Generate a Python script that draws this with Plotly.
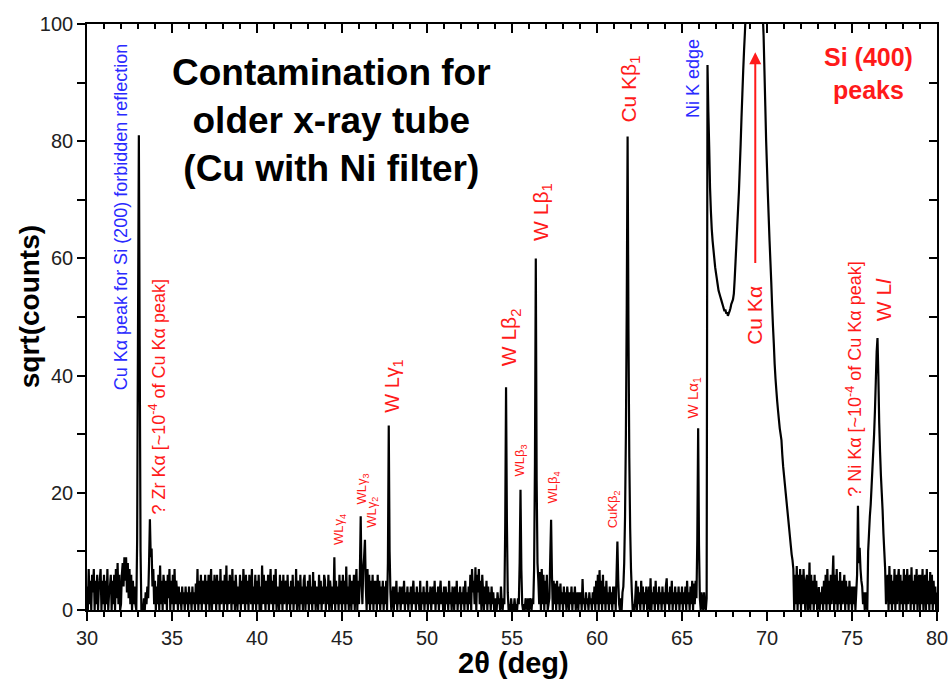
import numpy as np
import plotly.graph_objects as go

# ---------------- data (sqrt(counts), 0.05 deg steps, one row per degree) -------------
STEP = 0.05
r30 = [4,0,7,1,5,0,6,3,7,0,5,1,6,0,4,5,7,0,5,1]
r31 = [6,0,5,1,7,0,3,4,6,0,5,1,6,0,7,2,8,1,6,0]
r32 = [1,6,8,4,9,5,9,3,8,2,7,1,6,0,5,1,4,1,0,12]
r33 = [48,81,45,10,0,1,0,2,0,3,1,4,2,8,15.5,9,10.5,4,7,1]
r34 = [5,0,4,1,6,0,7.6,1,5,0,6,4,1,5,0,6,2,7,0,5]
r35 = [1,6,0,7,1,5,3,0,4,1,3,0,4,1,3,0,4,1,3,0]
r36 = [4,1,3,0,4,1,3,0,4.5,1,7,0,5,1,6,0,5,4,1,6]
r37 = [0,5,1,6,0,4,7,0,5,1,6,3,0,6,1,5,0,7,1,4]
r38 = [5,0,6,1,7.6,0,5,1,6,4,0,7,1,5,0,6,3,0,4,1]
r39 = [6,0,5,1,7,3,0,6,1,5,0,6,4,1,7,0,4,1,6,0]
r40 = [5,1,6,0,4,0,7.6,1,6,3,0,5,1,6,0,4,7,1,5,0]
r41 = [6,1,7,0,4,3,0,6,1,5,0,6,1,4,5,0,6,1,4,0]
r42 = [5,1,6,0,4,1,7,0,5,3,0,6,1,4,0,5,6,0,4,1]
r43 = [5,0,6,1,4,0,6.5,1,5,0,4,3,0,6,1,5,0,4,1,6]
r44 = [5,0,4,1,6,0,5,3,0,4,1,9,0,5,1,4,0,6,1,5]
r45 = [0,6,1,5,0,7.4,1,4,0,6,3,0,5,1,6,0,4,7,0,5]
r46 = [1,6,16,5,1,7,9,12,4,0,7,1,6,0,5,1,6,0,5,1]
r47 = [5,0,6,1,5,0,4,1,5,0,4,1,5,0,8,31.5,10,3,0,2]
r48 = [4,0,4,1,5,0,3,1,4,0,3,4,1,5,0,3,1,4,0,3]
r49 = [1,4,0,3,5,1,3,0,4,1,3,0,5,0,3,1,4,0,3,1]
r50 = [5,0,3,1,4,0,3,4,1,5,0,3,1,4,0,3,5,1,3,0]
r51 = [4,0,4,1,3,0,5,1,3,0,4,3,0,4,1,5,0,3,1,4]
r52 = [0,3,1,4,0,5,1,3,0,4,1,6,0,7,3,5,1,7.3,0,6]
r53 = [3,7,1,5,0,6,3,0,4,1,5,0,4,1,3,0,4,1,3,0]
r54 = [0,2,0,3,1,2,0,4,1,0,2,1,14,38,15,3,0,1,0,2]
r55 = [0,1,0,2,0,1,0,2,1,8,20.5,7,1,0,1,0,2,1,0,2]
r56 = [0,2,1,0,2,1,7,25,60,22,8,5,1,6.5,0,7,1,6,0,5]
r57 = [1,6,0,1,2,9,15.4,6,0,5,1,4.5,0,5,1,4,0,4.5,1,3]
r58 = [0,4,1,3,0,4,2,0,3,1,4,0,3,1,4,0,2,3,0,3]
r59 = [1,3,0,5.3,1,2,0,3,1,2,0,3,1,2,0,3,1,4,0,5]
r60 = [1,6,0,6.8,1,5,0,6,1,4,0,5,1,3,0,4,1,3,0,4]
r61 = [1,4,0,6,11.7,5,1,0,2,0,3,4,8,16,30,52,80.8,48,26,14]
r62 = [7,3,0,1,0,2,5,0,4,1,3,0,5,1,4,0,3,1,4,0]
r63 = [1,4,0,5.4,0,3,1,4,0,5,1,3,0,4,1,3,0,4,1,3]
r64 = [0,4,5.4,1,3,0,4,1,5,0,3,1,4,0,3,1,4,0,3,1]
r65 = [4,0,3,1,4,0,5,1,3,0,4,1,5,0,4.5,1,5,2,12,31]
r66 = [11,2,0,3,1,0,3,1,0,2,93,85,79,72,68,65,63,61.5,60,58.5]
r67 = [57.5,56.5,55.5,54.5,54,53.5,53,52.5,52,51.5,51,51.3,50.6,50.8,50.2,50.6,51,51.5,52.2,52.6]
r68 = [53,54,56.5,59.5,62.5,65.5,68.5,71.5,75.5,79.5,84,88,92,95.5,98.5,102,107,116,128,141]
r69 = [153,163,171,176,177,174,168,160,151,142,133,124,116,110,105,101.5,98,92,86,80]
r70 = [75.5,71,67,63,59.5,56,52,48.5,45.5,42,39.5,37.5,35.6,34,32.5,31,30,29,26.5,24.5]
r71 = [23,21.5,20,18.5,17,15.5,14,12.5,11,9.5,8.5,7,0,6,1,7.5,0,6,1,7]
r72 = [0,6,1,7,3,0,5,6,0,1,8.1,0,6,1,5,0,6,1,5,0]
r73 = [1,3.9,0,3,1,4,0,5,1,6,0,7,1,5,0,6,1,5,9.3,0]
r74 = [6,1,7,0,5,1,6.5,0,5,1,4,6,0,5,1,4,0,5,1,4]
r75 = [0,4,1,4,0,3,6,17.8,8,10.6,7,5,4,1,3,0,3,1,0,10]
r76 = [13,16,18,21,24,27,30,34,39,44,46.4,40,32,27,23,20,17,13,10,7]
r77 = [1,5,6,0,7.5,1,6,0,5,1,7,0,6,1,5,7,0,6,1,5]
r78 = [0,7,1,6,0,7,1,5,6,0,7.3,1,5,0,6,1,7,0,5,6]
r79 = [0,6,1,7,0,5,6,0,7,1,5,0,6.5,1,6,0,5,1,4,0]
r80 = [3]

rows = [r30, r31, r32, r33, r34, r35, r36, r37, r38, r39,
        r40, r41, r42, r43, r44, r45, r46, r47, r48, r49,
        r50, r51, r52, r53, r54, r55, r56, r57, r58, r59,
        r60, r61, r62, r63, r64, r65, r66, r67, r68, r69,
        r70, r71, r72, r73, r74, r75, r76, r77, r78, r79, r80]
sqrt_counts = [v for r in rows for v in r]
two_theta = np.round(30 + STEP * np.arange(len(sqrt_counts)), 2)

x_ticks = [30, 35, 40, 45, 50, 55, 60, 65, 70, 75, 80]
y_ticks = [0, 20, 40, 60, 80, 100]

# rotated labels: (text, x, y_bottom, color, size)
RED = "#ff1a1a"
BLUE = "#2a2aff"
labels = [
    ("Cu Kα peak for Si (200) forbidden reflection", 31.99, 37.2, BLUE, 18),
    ("? Zr Kα [~10<sup>-4</sup> of Cu Kα peak]", 34.14, 16.0, RED, 18),
    ("WLγ<sub>4</sub>", 44.85, 10.75, RED, 13),
    ("WLγ<sub>3</sub>", 46.19, 17.6, RED, 13),
    ("WLγ<sub>2</sub>", 46.78, 13.65, RED, 13),
    ("W Lγ<sub>1</sub>", 48.05, 33.3, RED, 20),
    ("W Lβ<sub>2</sub>", 54.9, 41.3, RED, 21),
    ("WLβ<sub>3</sub>", 55.49, 22.5, RED, 13),
    ("W Lβ<sub>1</sub>", 56.75, 62.6, RED, 21),
    ("WLβ<sub>4</sub>", 57.43, 17.9, RED, 13),
    ("CuKβ<sub>2</sub>", 60.96, 13.65, RED, 13),
    ("Cu Kβ<sub>1</sub>", 61.96, 82.8, RED, 21),
    ("W Lα<sub>1</sub>", 65.66, 32.3, RED, 15),
    ("Ni K edge", 65.61, 83.6, BLUE, 18),
    ("Cu Kα", 69.26, 44.9, RED, 21),
    ("? Ni Kα [~10<sup>-4</sup> of Cu Kα peak]", 75.13, 19.0, RED, 18),
    ("W L<i>l</i>", 76.87, 49.0, RED, 21),
]

FONT = "Liberation Sans, Arial, sans-serif"

fig = go.Figure()
fig.add_trace(go.Scatter(x=two_theta, y=sqrt_counts, mode="lines",
                         line=dict(color="black", width=2.2, simplify=False),
                         hoverinfo="skip", showlegend=False))
# helper trace so the mirrored top/right axes are drawn
fig.add_trace(go.Scatter(x=[30], y=[0], xaxis="x2", yaxis="y2", mode="markers",
                         marker=dict(opacity=0), showlegend=False, hoverinfo="skip"))

ann = []
for text, x, y, color, size in labels:
    ann.append(dict(text=text, x=x, y=y, xref="x", yref="y", textangle=-90,
                    xanchor="center", yanchor="bottom", showarrow=False,
                    font=dict(family=FONT, size=size, color=color)))

ann.append(dict(text="<b>Contamination for<br>older x-ray tube<br>(Cu with Ni filter)</b>",
                x=44.39, y=83.6, xref="x", yref="y", showarrow=False,
                xanchor="center", yanchor="middle",
                font=dict(family=FONT, size=37, color="black")))
ann.append(dict(text="<b>Si (400)<br>peaks</b>", x=75.96, y=91.6, xref="x", yref="y",
                showarrow=False, xanchor="center", yanchor="middle",
                font=dict(family=FONT, size=25, color=RED)))
# arrow pointing to the off-scale Cu K-alpha peak
ann.append(dict(text=" ", x=69.31, y=95.2, ax=69.31, ay=57.5, xref="x", yref="y",
                axref="x", ayref="y", showarrow=True, arrowhead=2, arrowsize=1.2,
                arrowwidth=2, arrowcolor=RED))
# axis titles
ann.append(dict(text="<b>2θ (deg)</b>", x=0.5015, y=-0.0905, xref="paper", yref="paper",
                showarrow=False, xanchor="center", yanchor="middle",
                font=dict(family=FONT, size=29, color="black")))
ann.append(dict(text="<b>sqrt(counts)</b>", x=-0.068, y=0.517, xref="paper", yref="paper",
                showarrow=False, xanchor="center", yanchor="middle", textangle=-90,
                font=dict(family=FONT, size=28, color="black")))

axis_common = dict(showline=True, linecolor="black", linewidth=1.6, showgrid=False,
                   zeroline=False, tickcolor="black", tickwidth=1.5, automargin=False)

fig.update_layout(
    width=951, height=688,
    margin=dict(l=87, r=14, t=24, b=78, autoexpand=False),
    paper_bgcolor="white", plot_bgcolor="white",
    annotations=ann,
    xaxis=dict(range=[30, 80], tickvals=x_ticks, ticks="outside", ticklen=9,
               minor=dict(dtick=1, tick0=30, ticks="outside", ticklen=5,
                          tickcolor="black", tickwidth=1.5),
               tickfont=dict(family=FONT, size=20, color="#222"),
               **axis_common),
    xaxis2=dict(range=[30, 80], overlaying="x", side="top", tickvals=x_ticks,
                ticks="inside", ticklen=9, showticklabels=False,
                minor=dict(dtick=1, tick0=30, ticks="inside", ticklen=5,
                           tickcolor="black", tickwidth=1.5),
                **axis_common),
    yaxis=dict(range=[0, 100], tickvals=y_ticks, ticks="outside", ticklen=8,
               minor=dict(dtick=10, tick0=0, ticks="outside", ticklen=8,
                          tickcolor="black", tickwidth=1.5),
               tickfont=dict(family=FONT, size=20, color="#222"),
               **axis_common),
    yaxis2=dict(range=[0, 100], overlaying="y", side="right", dtick=10, tick0=0,
                ticks="inside", ticklen=8, showticklabels=False, **axis_common),
)

fig.write_html("out.html", config={"displayModeBar": False},
               post_script="document.body.style.margin='0';")
